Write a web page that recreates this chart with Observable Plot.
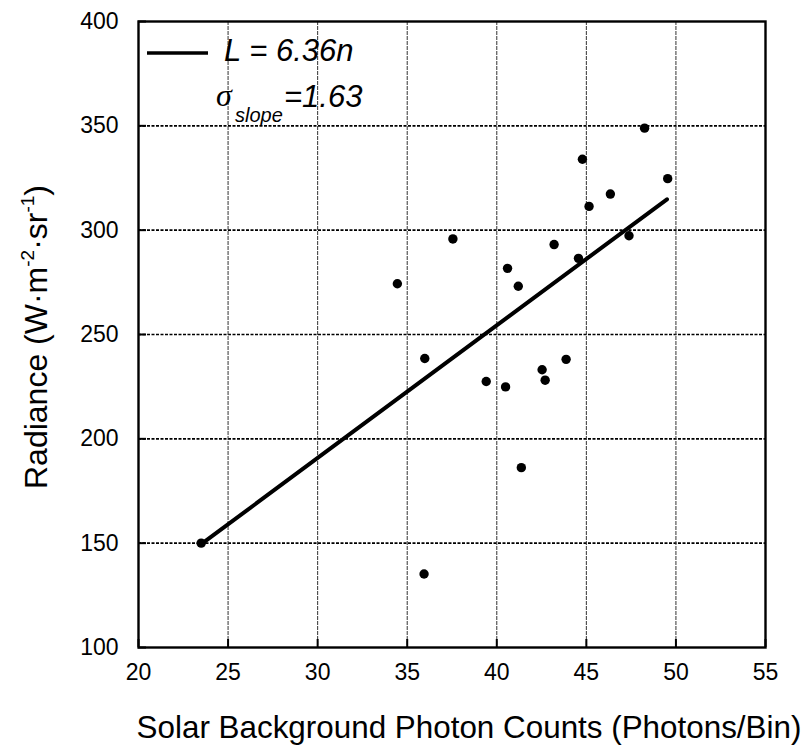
<!DOCTYPE html>
<html><head><meta charset="utf-8">
<script src="https://cdn.jsdelivr.net/npm/d3@7"></script>
<script src="https://cdn.jsdelivr.net/npm/@observablehq/plot@0.6"></script>
<style>html,body{margin:0;padding:0;background:#fff;overflow:hidden}svg{display:block}</style>
</head><body><div id="chart"></div>
<script>
// Data
const photonCounts = [23.5, 34.45, 37.55, 40.6, 41.2, 43.2, 44.56, 44.78, 45.15, 46.34, 47.38, 48.25, 49.54,
                      35.98, 39.41, 40.49, 42.53, 42.7, 43.87, 41.37, 35.94];
const radiance     = [150, 274.3, 295.8, 281.7, 273.1, 293.1, 286.5, 334.0, 311.4, 317.3, 297.3, 348.9, 324.7,
                      238.5, 227.5, 224.9, 233.1, 228.1, 238.1, 186.2, 135.2];
// fitted line L = 6.36 n (end points as drawn)
const fitCounts   = [23.5, 49.5];
const fitRadiance = [149.5, 314.8];
const xTicks = [20, 25, 30, 35, 40, 45, 50, 55];
const yTicks = [100, 150, 200, 250, 300, 350, 400];
const xLabel = "Solar Background Photon Counts (Photons/Bin)";
const legendEq = "L = 6.36n";
const legendSigma = "=1.63";

const W = 806, H = 749, mL = 138, mR = 41, mT = 21, mB = 102;
const innerW = W - mL - mR, innerH = H - mT - mB;
const points = photonCounts.map((x, i) => ({x, y: radiance[i]}));
const fit = fitCounts.map((x, i) => ({x, y: fitRadiance[i]}));

const chart = Plot.plot({
  width: W, height: H,
  marginLeft: mL, marginRight: mR, marginTop: mT, marginBottom: mB,
  style: {fontFamily: "'Liberation Sans', Arial, sans-serif", fontSize: "23px", color: "#000", background: "#fff"},
  x: {domain: [20, 55]},
  y: {domain: [100, 400]},
  marks: [
    Plot.gridY(yTicks.slice(1, -1), {stroke: "#000", strokeOpacity: 1, strokeWidth: 1.6, strokeDasharray: "3,1.5"}),
    Plot.gridX(xTicks.slice(1, -1), {stroke: "#333", strokeOpacity: 1, strokeWidth: 1, strokeDasharray: "4,1"}),
    Plot.tickY(yTicks, {y: d => d, stroke: "#000", strokeWidth: 2, insetRight: innerW - 8}),
    Plot.tickX(xTicks, {x: d => d, stroke: "#000", strokeWidth: 2, insetTop: innerH - 8}),
    Plot.frame({stroke: "#000", strokeWidth: 2.4}),
    Plot.axisX(xTicks, {tickSize: 0, tickPadding: 16, label: null, fontSize: 23}),
    Plot.axisY(yTicks, {tickSize: 0, tickPadding: 20, label: null, fontSize: 23}),
    Plot.line(fit, {x: "x", y: "y", stroke: "#000", strokeWidth: 4}),
    Plot.dot(points, {x: "x", y: "y", r: 4.7, fill: "#000", stroke: null})
  ]
});
document.getElementById("chart").appendChild(chart);

const svg = d3.select(chart);
const font = "'Liberation Sans', Arial, sans-serif";

// x axis label
svg.append("text")
  .attr("x", 469).attr("y", 738)
  .attr("text-anchor", "middle")
  .attr("font-family", font).attr("font-size", 31.4).attr("fill", "#000")
  .text(xLabel);

// y axis label with superscripts
const yl = svg.append("text")
  .attr("transform", "translate(47,337) rotate(-90)")
  .attr("text-anchor", "middle")
  .attr("font-family", font).attr("font-size", 32).attr("fill", "#000");
yl.append("tspan").text("Radiance (W·m");
yl.append("tspan").attr("dy", -13).attr("font-size", 19).text("-2");
yl.append("tspan").attr("dy", 13).text("·sr");
yl.append("tspan").attr("dy", -13).attr("font-size", 19).text("-1");
yl.append("tspan").attr("dy", 13).text(")");

// legend
const lg = svg.append("g").attr("text-anchor", "start");
lg.append("line").attr("x1", 147).attr("x2", 208).attr("y1", 53).attr("y2", 53)
  .attr("stroke", "#000").attr("stroke-width", 3.4);
lg.append("text").attr("x", 224).attr("y", 61).attr("text-anchor", "start")
  .attr("font-family", font).attr("font-size", 31).attr("font-style", "italic").attr("fill", "#000")
  .text(legendEq);
lg.append("text").attr("x", 216).attr("y", 106).attr("text-anchor", "start")
  .attr("font-family", "'Liberation Serif', 'DejaVu Serif', serif").attr("font-size", 32).attr("font-style", "italic").attr("fill", "#000")
  .text("σ");
lg.append("text").attr("x", 235).attr("y", 122).attr("text-anchor", "start")
  .attr("font-family", font).attr("font-size", 20).attr("font-style", "italic").attr("fill", "#000")
  .text("slope");
lg.append("text").attr("x", 284).attr("y", 107).attr("text-anchor", "start")
  .attr("font-family", font).attr("font-size", 31).attr("font-style", "italic").attr("fill", "#000")
  .text(legendSigma);
</script>
</body></html>
